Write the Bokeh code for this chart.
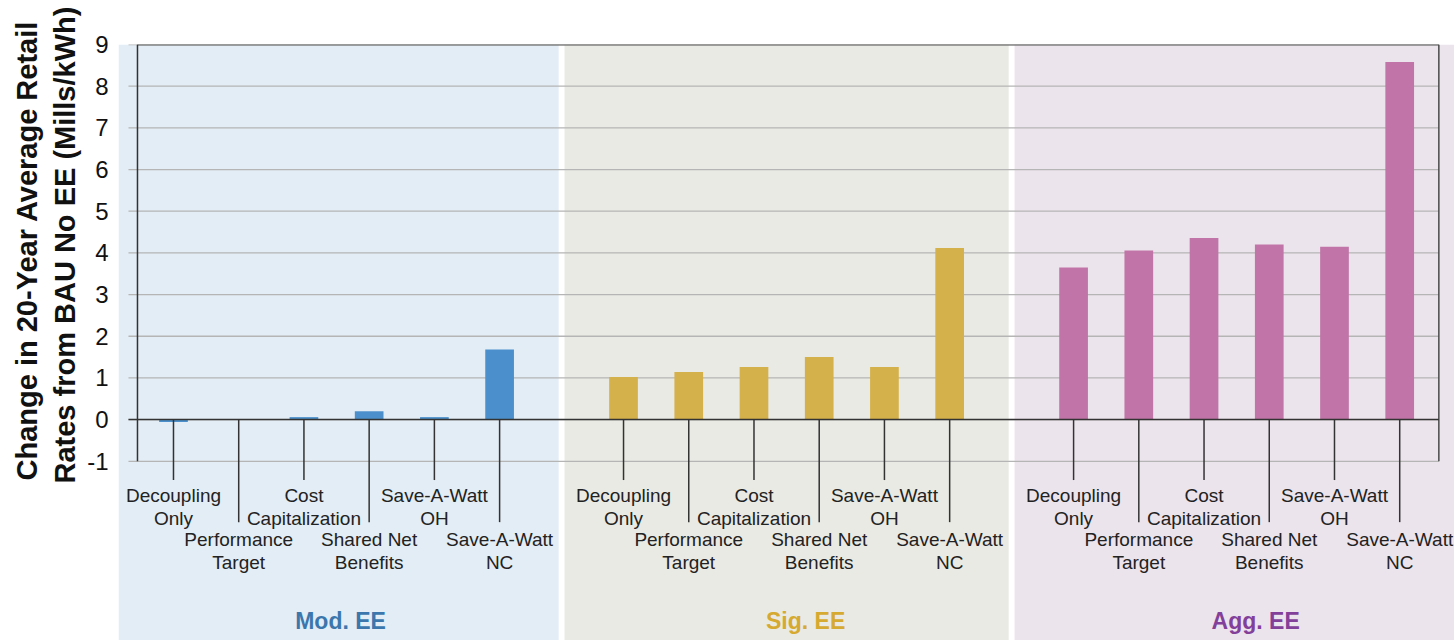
from bokeh.plotting import figure
from bokeh.models import Range1d, FixedTicker, Title
from bokeh.core.properties import value
from bokeh.embed import file_html
from bokeh.resources import INLINE

# ---------------- data ----------------
groups = ["Mod. EE", "Sig. EE", "Agg. EE"]
categories = ["Decoupling\nOnly", "Performance\nTarget", "Cost\nCapitalization",
              "Shared Net\nBenefits", "Save-A-Watt\nOH", "Save-A-Watt\nNC"]
mod_ee = [-0.06, 0.0, 0.06, 0.20, 0.06, 1.68]
sig_ee = [1.02, 1.14, 1.26, 1.50, 1.26, 4.12]
agg_ee = [3.65, 4.06, 4.36, 4.20, 4.15, 8.58]
y_ticks = [-1, 0, 1, 2, 3, 4, 5, 6, 7, 8, 9]
y_label_lines = ["Change in 20-Year Average Retail", "Rates from BAU No EE (Mills/kWh)"]

bar_colors = ["#4b90cd", "#d4b14b", "#c174a7"]
panel_colors = ["#e3edf5", "#eaeae4", "#ece4ec"]
group_label_colors = ["#3b77ad", "#d6a930", "#83409a"]

# ---------------- layout constants ----------------
n_cat = len(categories)
group_pad = 0.9
x_start, x_end = -0.343, 20.14
y_bottom = -5.30
axis_x = -0.052
grid_x0 = -0.19
frame_right = 19.9
gap_half = 0.045
bar_width = 0.44
title_offsets = [160, 157]     # px from panel bottom where each title line starts
title_standoffs = [0, 8]

series = [mod_ee, sig_ee, agg_ee]

def pos(g, i):
    return g * (n_cat + group_pad) + i + 0.5

p = figure(width=1454, height=640, output_backend="svg", toolbar_location=None,
           x_range=Range1d(x_start, x_end), y_range=Range1d(y_bottom, 9),
           min_border_left=118, min_border_top=44, min_border_right=0, min_border_bottom=0)
p.outline_line_color = None
p.xaxis.visible = False
p.xgrid.visible = False
p.ygrid.visible = False

# panels
pl, pr, pc = [], [], []
for g in range(len(groups)):
    left = g * (n_cat + group_pad) - group_pad / 2 + gap_half
    right = g * (n_cat + group_pad) + n_cat + group_pad / 2 - gap_half
    if g == 0:
        left = x_start
    if g == len(groups) - 1:
        right = x_end
    pl.append(left); pr.append(right); pc.append(panel_colors[g])
p.quad(left=pl, right=pr, top=9, bottom=y_bottom, fill_color=pc, line_color=None)

# grid lines
p.segment(x0=grid_x0, x1=frame_right, y0=y_ticks, y1=y_ticks, line_color="#b5b5b5", line_width=1.3)

# bars
xs, tops, cols = [], [], []
for g, vals in enumerate(series):
    for i, v in enumerate(vals):
        xs.append(pos(g, i)); tops.append(v); cols.append(bar_colors[g])
p.vbar(x=xs, top=tops, bottom=0, width=bar_width, fill_color=cols, line_color=None)

# frame lines
p.segment(x0=axis_x, x1=frame_right, y0=9, y1=9, line_color="#5a5a5a", line_width=2)
p.segment(x0=frame_right, x1=frame_right, y0=-1, y1=9, line_color="#4a4a4a", line_width=1.5)
p.segment(x0=axis_x, x1=axis_x, y0=-1, y1=9, line_color="#333333", line_width=1.5)
p.segment(x0=grid_x0, x1=frame_right, y0=0, y1=0, line_color="#333333", line_width=1.5)

# category ticks & labels
short_end, long_end = -1.45, -2.46
row1, row2 = -1.57, -2.63
tx, ty0, ty1, lx, ly, lt = [], [], [], [], [], []
for g in range(len(groups)):
    for i, c in enumerate(categories):
        x = pos(g, i)
        tx.append(x); ty0.append(0); ty1.append(short_end if i % 2 == 0 else long_end)
        lx.append(x); ly.append(row1 if i % 2 == 0 else row2); lt.append(c)
p.segment(x0=tx, x1=tx, y0=ty0, y1=ty1, line_color="#333333", line_width=1.5)
p.text(x=lx, y=ly, text=lt, text_align="center", text_baseline="top",
       text_font=value("Liberation Sans"), text_font_size="19px", text_line_height=1.1,
       text_color="#222222")

# group labels
gx = [g * (n_cat + group_pad) + n_cat / 2 for g in range(len(groups))]
p.text(x=gx, y=-4.84, text=groups, text_align="center", text_baseline="middle",
       x_offset=[4, 19, 19],
       text_font=value("Liberation Sans"), text_font_style="bold", text_font_size="23px",
       text_color=group_label_colors)

# y axis
ax = p.yaxis[0]
ax.ticker = FixedTicker(ticks=y_ticks)
ax.major_label_overrides = {-1: "-1"}
ax.axis_line_color = None
ax.major_tick_line_color = None
ax.minor_tick_line_color = None
ax.major_tick_out = 0
ax.major_tick_in = 0
ax.major_label_standoff = 10
ax.major_label_text_font = "Liberation Sans"
ax.major_label_text_font_size = "24px"
ax.major_label_text_color = "#111111"

# y axis title (two lines), placed over the -1..9 span
for k in (1, 0):
    p.add_layout(Title(text=y_label_lines[k], align="left", offset=title_offsets[k],
                       standoff=title_standoffs[k],
                       text_font="Liberation Sans", text_font_style="bold",
                       text_font_size="29px", text_color="#111111"), "left")

open("out.html", "w").write(file_html(p, INLINE))
